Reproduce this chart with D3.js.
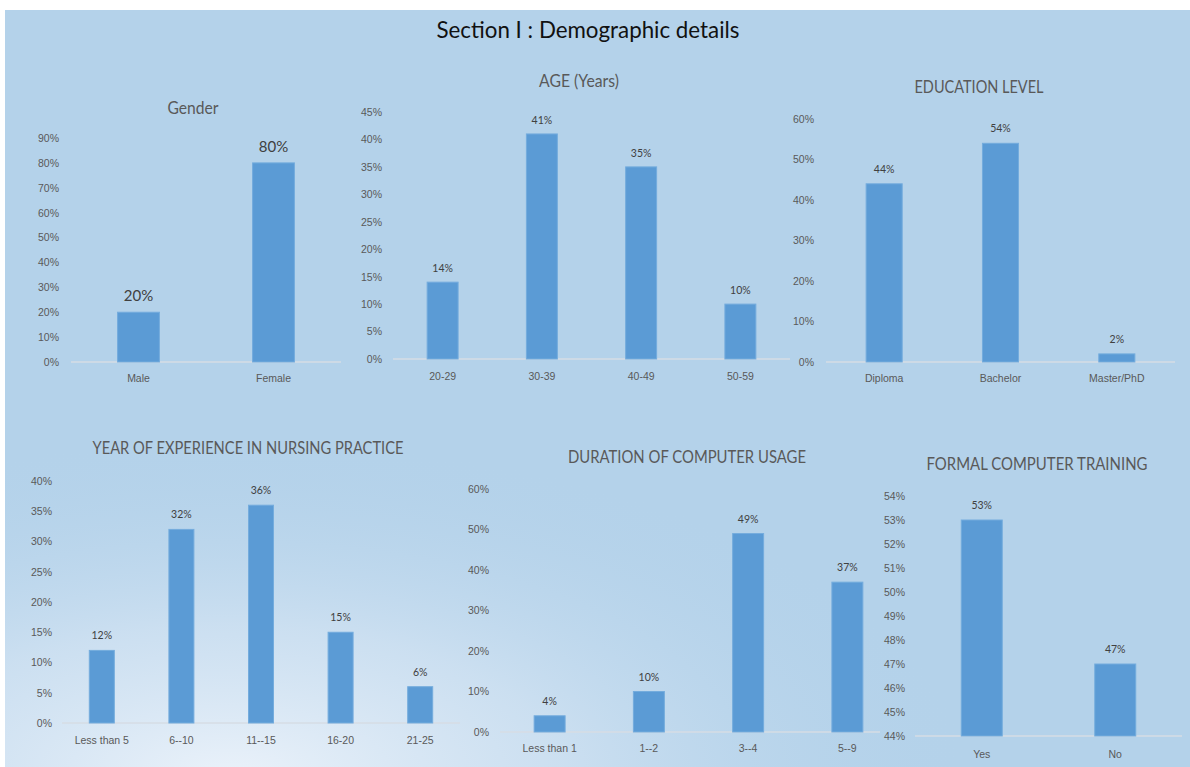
<!DOCTYPE html>
<html>
<head>
<meta charset="utf-8">
<script src="https://cdn.jsdelivr.net/npm/d3@7"></script>
<style>
html,body{margin:0;padding:0;background:#fff;}
svg{display:block;font-family:Lato,"Noto Sans",sans-serif;}
</style>
</head>
<body>
<svg id="chart" width="1190" height="767"></svg>
<script>
// ---------- data ----------
const mainTitle = "Section I : Demographic details";

const genderTitle = "Gender";
const genderCats = ["Male", "Female"];
const genderVals = [20, 80];
const genderTicks = [0, 10, 20, 30, 40, 50, 60, 70, 80, 90];

const ageTitle = "AGE (Years)";
const ageCats = ["20-29", "30-39", "40-49", "50-59"];
const ageVals = [14, 41, 35, 10];
const ageTicks = [0, 5, 10, 15, 20, 25, 30, 35, 40, 45];

const eduTitle = "EDUCATION LEVEL";
const eduCats = ["Diploma", "Bachelor", "Master/PhD"];
const eduVals = [44, 54, 2];
const eduTicks = [0, 10, 20, 30, 40, 50, 60];

const expTitle = "YEAR OF EXPERIENCE IN NURSING PRACTICE";
const expCats = ["Less than 5", "6--10", "11--15", "16-20", "21-25"];
const expVals = [12, 32, 36, 15, 6];
const expTicks = [0, 5, 10, 15, 20, 25, 30, 35, 40];

const durTitle = "DURATION OF COMPUTER USAGE";
const durCats = ["Less than 1", "1--2", "3--4", "5--9"];
const durVals = [4, 10, 49, 37];
const durTicks = [0, 10, 20, 30, 40, 50, 60];

const trainTitle = "FORMAL COMPUTER TRAINING";
const trainCats = ["Yes", "No"];
const trainVals = [53, 47];
const trainTicks = [44, 45, 46, 47, 48, 49, 50, 51, 52, 53, 54];

// ---------- layout ----------
const svg = d3.select("#chart");
const defs = svg.append("defs");
const rg = defs.append("radialGradient").attr("id", "glow")
  .attr("gradientUnits", "userSpaceOnUse")
  .attr("cx", 230).attr("cy", 780).attr("r", 620)
  .attr("gradientTransform", "translate(230,780) scale(1.2,0.55) translate(-230,-780)");
rg.append("stop").attr("offset", "0%").attr("stop-color", "#eef4fb").attr("stop-opacity", 0.95);
rg.append("stop").attr("offset", "45%").attr("stop-color", "#dbe8f5").attr("stop-opacity", 0.6);
rg.append("stop").attr("offset", "100%").attr("stop-color", "#b4d2ea").attr("stop-opacity", 0);

svg.append("rect").attr("x", 5).attr("y", 10).attr("width", 1185).attr("height", 757).attr("fill", "#b4d2ea");
svg.append("rect").attr("x", 5).attr("y", 10).attr("width", 1185).attr("height", 757).attr("fill", "url(#glow)");

svg.append("text").attr("x", 588).attr("y", 38).attr("text-anchor", "middle")
  .attr("font-size", 24).attr("fill", "#111")
  .attr("textLength", 303).attr("lengthAdjust", "spacingAndGlyphs").text(mainTitle);

const pct = d => d + "%";

function barChart(cfg) {
  const g = svg.append("g");
  const x = d3.scaleBand().domain(cfg.cats).range([cfg.x0, cfg.x1]).padding(0);
  const y = d3.scaleLinear().domain([cfg.ticks[0], cfg.ticks[cfg.ticks.length - 1]]).range([cfg.base, cfg.top]);
  const bw = x.bandwidth() * cfg.frac;

  // title
  g.append("text").attr("x", cfg.tx).attr("y", cfg.ty).attr("text-anchor", "middle")
    .attr("font-size", cfg.tfs).attr("fill", "#595959")
    .attr("textLength", cfg.tw).attr("lengthAdjust", "spacingAndGlyphs").text(cfg.title);

  // y axis
  const ya = g.append("g").attr("transform", `translate(${cfg.x0},0)`)
    .call(d3.axisLeft(y).tickValues(cfg.ticks).tickFormat(pct).tickSize(0).tickPadding(cfg.ypad));
  ya.select(".domain").remove();
  ya.selectAll("text").attr("font-size", 10.5).attr("fill", "#595959").attr("font-family", null);

  // baseline
  g.append("line").attr("x1", cfg.x0).attr("x2", cfg.lineEnd || cfg.x1)
    .attr("y1", cfg.base).attr("y2", cfg.base).attr("stroke", "#d6dde4").attr("stroke-width", 1.5);

  // x axis labels
  const xa = g.append("g").attr("transform", `translate(0,${cfg.base})`)
    .call(d3.axisBottom(x).tickSize(0).tickPadding(cfg.xpad));
  xa.select(".domain").remove();
  xa.selectAll("text").attr("font-size", 10.5).attr("fill", "#595959").attr("font-family", null);

  // bars
  g.selectAll("rect.bar").data(cfg.vals).join("rect").attr("class", "bar")
    .attr("x", (d, i) => x(cfg.cats[i]) + (x.bandwidth() - bw) / 2)
    .attr("width", bw)
    .attr("y", d => y(d))
    .attr("height", d => cfg.base - y(d))
    .attr("fill", "#5b9bd5").attr("stroke", "#74acdd").attr("stroke-width", 1);

  // data labels
  g.selectAll("text.lbl").data(cfg.vals).join("text").attr("class", "lbl")
    .attr("x", (d, i) => x(cfg.cats[i]) + x.bandwidth() / 2)
    .attr("y", d => y(d) - cfg.lgap)
    .attr("text-anchor", "middle").attr("font-size", cfg.lfs).attr("fill", "#404040")
    .text(pct);
}

barChart({title: genderTitle, cats: genderCats, vals: genderVals, ticks: genderTicks,
  x0: 71, x1: 341, base: 362, top: 138, frac: 0.31, tx: 193, ty: 114, tfs: 17, tw: 51,
  ypad: 12, xpad: 13, lgap: 11, lfs: 15});
barChart({title: ageTitle, cats: ageCats, vals: ageVals, ticks: ageTicks,
  x0: 393, x1: 790, base: 359, top: 112, frac: 0.312, tx: 579, ty: 87, tfs: 17, tw: 80,
  ypad: 11, xpad: 14, lgap: 10, lfs: 10.5});
barChart({title: eduTitle, cats: eduCats, vals: eduVals, ticks: eduTicks,
  x0: 826, x1: 1175, base: 362, top: 119, frac: 0.31, tx: 979, ty: 93, tfs: 17, tw: 129,
  ypad: 12, xpad: 13, lgap: 11, lfs: 10.5});
barChart({title: expTitle, cats: expCats, vals: expVals, ticks: expTicks,
  x0: 62, x1: 460, base: 723, top: 481, frac: 0.314, tx: 248, ty: 454, tfs: 17, tw: 311,
  ypad: 10, xpad: 14, lgap: 11, lfs: 10.5});
barChart({title: durTitle, cats: durCats, vals: durVals, ticks: durTicks,
  x0: 500, x1: 897, base: 732, top: 489, frac: 0.312, tx: 687, ty: 463, tfs: 17, tw: 238,
  ypad: 11, xpad: 13, lgap: 11, lfs: 10.5, lineEnd: 880});
barChart({title: trainTitle, cats: trainCats, vals: trainVals, ticks: trainTicks,
  x0: 915, x1: 1182, base: 736, top: 496, frac: 0.307, tx: 1037, ty: 470, tfs: 17, tw: 221,
  ypad: 10, xpad: 15, lgap: 11, lfs: 10.5});
</script>
</body>
</html>
